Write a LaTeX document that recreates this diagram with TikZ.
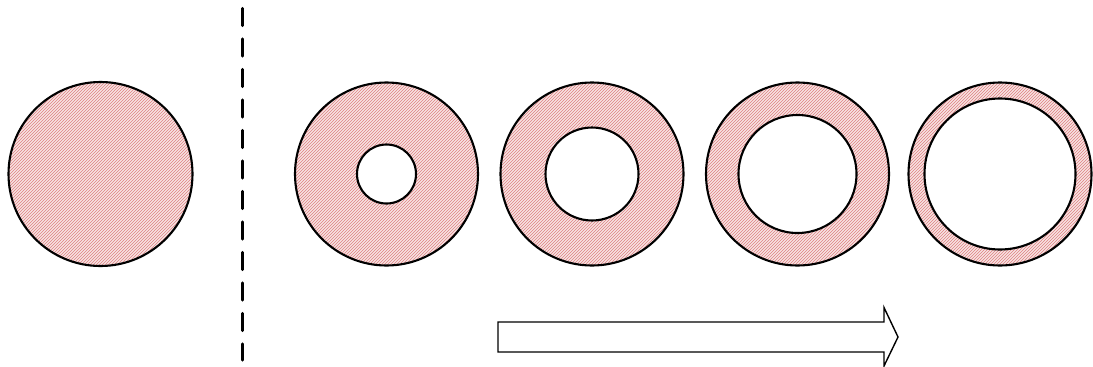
\documentclass[tikz,border=0pt]{standalone}
\usepackage{tikz}
\usepackage{xcolor}
\definecolor{ringPink}{RGB}{248,228,228}
\definecolor{ringLine}{RGB}{222,128,128}
\usetikzlibrary{patterns}

\begin{document}
\begin{tikzpicture}[x=1pt, y=-1pt,
  disk/.style={circle, draw, line width=2.1pt, minimum size=183pt, inner sep=0pt,
               preaction={fill=ringPink}, pattern=north east lines, pattern color=ringLine},
  hole/.style={circle, draw, line width=2.1pt, fill=white, inner sep=0pt},
  sep/.style={line width=3.4pt, dash pattern=on 17pt off 13.5pt, line cap=round},
  flow/.style={draw, line width=1.4pt, fill=white, line join=miter}
]
  \useasboundingbox (0,0) rectangle (1093,367);

  % full disk left of the divider
  \node[disk, minimum size=184pt] (solid) at (100.5,174) {};

  % divider
  \coordinate (sepTop) at (242.7,8.5);
  \coordinate (sepBot) at (242.7,360);
  \draw[sep] (sepTop) -- (sepBot);

  % rings with growing holes
  \foreach \i/\cx/\rin in {1/386.5/29.5, 2/592/46.5, 3/797.5/59, 4/1000/75.5} {
    \node[disk] (ring\i) at (\cx,174) {};
    \node[hole, minimum size={2*\rin pt}] (hole\i) at (ring\i.center) {};
  }

  % direction arrow
  \draw[flow] (498,322) -- (884,322) -- (884,307.5) -- (898,337)
              -- (884,366) -- (884,352) -- (498,352) -- cycle;
\end{tikzpicture}
\end{document}
